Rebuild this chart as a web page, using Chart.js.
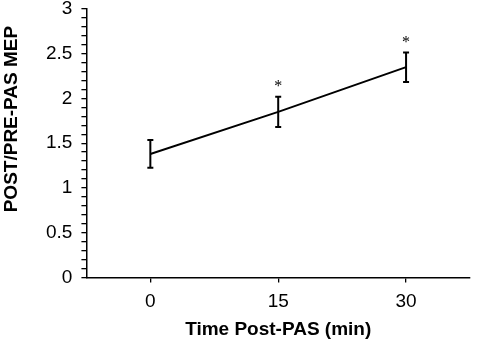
<!DOCTYPE html>
<html>
<head>
<meta charset="utf-8">
<script src="https://cdn.jsdelivr.net/npm/chart.js@4.4.1/dist/chart.umd.min.js"></script>
<style>
html, body { margin: 0; padding: 0; background: #fff; }
</style>
</head>
<body>
<canvas id="mepChart" width="482" height="342"></canvas>
<script>
// values
const timeLabels = ['0', '15', '30'];
const mepMeans = [1.38, 1.85, 2.35];
const mepSem = [0.155, 0.17, 0.165];
const significant = [false, true, true];
const yTickLabels = ['0', '0.5', '1', '1.5', '2', '2.5', '3'];
const yTitle = 'POST/PRE-PAS MEP';

// error bars + asterisks
const errorBars = {
    id: 'errorBars',
    afterDatasetsDraw(chart) {
        const ctx = chart.ctx;
        const y = chart.scales.y;
        const meta = chart.getDatasetMeta(0);
        ctx.save();
        ctx.strokeStyle = '#000';
        ctx.fillStyle = '#000';
        ctx.lineWidth = 2;
        ctx.textAlign = 'center';
        ctx.textBaseline = 'middle';
        ctx.font = '16px "Liberation Serif"';
        meta.data.forEach((pt, i) => {
            const top = y.getPixelForValue(mepMeans[i] + mepSem[i]);
            const bottom = y.getPixelForValue(mepMeans[i] - mepSem[i]);
            ctx.beginPath();
            ctx.moveTo(pt.x, top);
            ctx.lineTo(pt.x, bottom);
            ctx.moveTo(pt.x - 3, top);
            ctx.lineTo(pt.x + 3, top);
            ctx.moveTo(pt.x - 3, bottom);
            ctx.lineTo(pt.x + 3, bottom);
            ctx.stroke();
            if (significant[i]) {
                ctx.fillText('*', pt.x, top - 10);
            }
        });
        ctx.restore();
    }
};

// y title sits a bit above the axis middle in the original
const yAxisTitle = {
    id: 'yAxisTitle',
    afterDraw(chart) {
        const ctx = chart.ctx;
        const area = chart.chartArea;
        ctx.save();
        ctx.translate(12, area.top + (area.bottom - area.top) * 0.41);
        ctx.rotate(-Math.PI / 2);
        ctx.fillStyle = '#000';
        ctx.textAlign = 'center';
        ctx.textBaseline = 'middle';
        ctx.font = 'bold 19px "Liberation Sans"';
        ctx.fillText(yTitle, 0, 0);
        ctx.restore();
    }
};

const ctx = document.getElementById('mepChart').getContext('2d');
const mepChart = new Chart(ctx, {
    type: 'line',
    data: {
        labels: timeLabels,
        datasets: [{
            data: mepMeans,
            borderColor: '#000',
            borderWidth: 2,
            pointRadius: 0,
            fill: false,
            tension: 0
        }]
    },
    options: {
        responsive: false,
        animation: false,
        layout: { padding: { top: 0, right: 12, left: 37, bottom: 1 } },
        plugins: {
            legend: { display: false },
            tooltip: { enabled: false }
        },
        scales: {
            x: {
                offset: true,
                afterFit: (scale) => {
                    scale.height -= 5;
                },
                grid: { drawOnChartArea: false, offset: false, color: '#000', tickLength: 5, lineWidth: 1.3 },
                border: { color: '#000', width: 1.5 },
                ticks: { color: '#000', padding: 8, font: { family: 'Liberation Sans', size: 19 } },
                title: {
                    display: true,
                    text: 'Time Post-PAS (min)',
                    color: '#000',
                    padding: { top: 2, bottom: 0 },
                    font: { family: 'Liberation Sans', size: 19, weight: 'bold' }
                }
            },
            y: {
                min: 0,
                max: 3,
                afterFit: (scale) => {
                    scale.paddingTop = 9;
                },
                grid: { drawOnChartArea: false, color: '#000', tickLength: 5, lineWidth: 1.3 },
                border: { color: '#000', width: 1.5 },
                ticks: {
                    count: 31,
                    autoSkip: false,
                    color: '#000',
                    padding: 9,
                    font: { family: 'Liberation Sans', size: 19 },
                    callback: (v) => {
                        const r = Math.round(v * 10);
                        return r % 5 === 0 ? yTickLabels[r / 5] : '';
                    }
                }
            }
        }
    },
    plugins: [errorBars, yAxisTitle]
});
</script>
</body>
</html>
